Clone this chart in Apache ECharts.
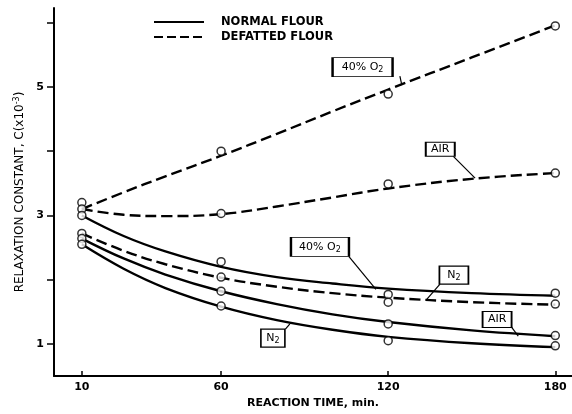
<!DOCTYPE html>
<html>
<head>
<meta charset="utf-8">
<script src="https://cdn.jsdelivr.net/npm/echarts@6/dist/echarts.min.js"></script>
<style>
  html, body { margin: 0; padding: 0; background: #fff; }
  #chart { width: 572px; height: 414px; }
</style>
</head>
<body>
<div id="chart"></div>
<script>
// Reaction times (min) where measurements were taken
const timePts = [10, 60, 120, 180];
// Reaction times used to trace the fitted curves
const timeFit = [10, 25, 40, 60, 80, 100, 120, 150, 180];

// Measured relaxation constants, C (x10^-3)
const defatO2Pts  = [3.20, 4.00, 4.89, 5.95];
const defatAirPts = [3.10, 3.03, 3.49, 3.66];
const defatN2Pts  = [2.72, 2.04, 1.65, 1.62];
const normO2Pts   = [3.00, 2.28, 1.77, 1.79];
const normAirPts  = [2.64, 1.82, 1.31, 1.13];
const normN2Pts   = [2.55, 1.59, 1.05, 0.97];

// Fitted curves through the measurements
const defatO2Fit  = [3.10, 3.36, 3.61, 3.93, 4.27, 4.62, 4.96, 5.46, 5.96];
const defatAirFit = [3.10, 3.01, 2.99, 3.02, 3.14, 3.28, 3.42, 3.57, 3.66];
const defatN2Fit  = [2.72, 2.45, 2.24, 2.03, 1.89, 1.79, 1.72, 1.65, 1.61];
const normO2Fit   = [3.00, 2.68, 2.44, 2.20, 2.04, 1.94, 1.86, 1.79, 1.75];
const normAirFit  = [2.64, 2.33, 2.08, 1.82, 1.62, 1.46, 1.34, 1.21, 1.12];
const normN2Fit   = [2.55, 2.17, 1.87, 1.58, 1.37, 1.22, 1.11, 1.01, 0.95];

// Axis ticks and labels
const xTicks = [10, 60, 120, 180];
const yTicks = [1, 2, 3, 4, 5, 6];
const yLabels = [1, 3, 5];

// Curve tags: text, box centre (data units), leader line (data units)
const tagText = ['40% O{s|2}', 'AIR', '40% O{s|2}', 'N{s|2}', 'AIR', 'N{s|2}'];
const tagAt = [[110.8, 5.31], [138.7, 4.03], [95.5, 2.51], [143.6, 2.07], [159.1, 1.38], [78.6, 1.09]];
const tagLeader = [
  [[124.2, 5.17], [124.9, 5.03]],
  [[143.4, 3.92], [151.2, 3.58]],
  [[105.7, 2.37], [115.6, 1.85]],
  [[138.6, 1.93], [133.6, 1.68]],
  [[164.3, 1.26], [166.7, 1.12]],
  [[83.1, 1.23], [84.7, 1.31]]
];
const tagBox = [[60, 19], [29, 14], [58, 19], [29, 18], [29, 16], [24, 18]];

const FONT = 'DejaVu Sans';
const DASH = [11, 5];
const rich = { s: { fontSize: 8, fontFamily: FONT, padding: [6, 0, 0, 0] } };

function curve(vals, dashed, tag) {
  return {
    type: 'line',
    data: timeFit.map((t, i) => [t, vals[i]]),
    smooth: 0.4,
    symbol: 'none',
    silent: true,
    z: 2,
    lineStyle: { color: '#000', width: 2.4, type: dashed ? DASH : 'solid' },
    markPoint: {
      symbol: 'rect',
      silent: true,
      itemStyle: { color: '#fff', borderColor: '#000', borderWidth: 1.4 },
      label: {
        show: true, position: 'inside', color: '#000',
        fontFamily: FONT, fontSize: 11, rich: rich,
        formatter: tagText[tag]
      },
      data: [{ coord: tagAt[tag], symbolSize: tagBox[tag] }]
    },
    markLine: {
      silent: true,
      symbol: ['none', 'none'],
      label: { show: false },
      lineStyle: { color: '#000', width: 1.2, type: 'solid' },
      data: [[{ coord: tagLeader[tag][0] }, { coord: tagLeader[tag][1] }]]
    }
  };
}

function points(vals) {
  return {
    type: 'scatter',
    data: timePts.map((t, i) => [t, vals[i]]),
    symbol: 'circle',
    symbolSize: 8,
    silent: true,
    z: 3,
    itemStyle: { color: '#fff', borderColor: '#000', borderWidth: 1.5 }
  };
}

function legendLine(name, dashed) {
  return {
    name: name,
    type: 'line',
    data: [],
    symbol: 'none',
    color: '#000',
    lineStyle: { color: '#000', width: 2.4, type: dashed ? [9, 4] : 'solid' }
  };
}

const chart = echarts.init(document.getElementById('chart'));
chart.setOption({
  animation: false,
  backgroundColor: '#fff',
  grid: { left: 54, right: 0, top: 8, bottom: 31 },
  legend: {
    orient: 'vertical',
    left: 153,
    top: 16,
    itemWidth: 50,
    itemHeight: 12,
    itemGap: 3,
    padding: 0,
    selectedMode: false,
    itemStyle: { opacity: 0 },
    data: ['NORMAL FLOUR', 'DEFATTED FLOUR'],
    textStyle: { color: '#000', fontFamily: FONT, fontSize: 11.5, fontWeight: 'bold', padding: [0, 0, 0, 12] }
  },
  xAxis: {
    type: 'value',
    min: 0,
    max: 186,
    name: 'REACTION TIME, min.',
    nameLocation: 'middle',
    nameGap: 22,
    nameTextStyle: { color: '#000', fontFamily: FONT, fontSize: 11, fontWeight: 'bold' },
    axisLine: { show: true, lineStyle: { color: '#000', width: 2 } },
    axisTick: { show: true, inside: true, length: 5, lineStyle: { color: '#000', width: 1.5 }, customValues: xTicks },
    axisLabel: { color: '#000', fontFamily: FONT, fontSize: 11, fontWeight: 'bold', margin: 6, customValues: xTicks },
    splitLine: { show: false }
  },
  yAxis: {
    type: 'value',
    min: 0.5,
    max: 6.23,
    name: 'RELAXATION CONSTANT, C(x10{sup|-3})',
    nameLocation: 'middle',
    nameRotate: 90,
    nameGap: 27,
    nameTextStyle: {
      color: '#000', fontFamily: FONT, fontSize: 12,
      rich: { sup: { fontSize: 8, fontFamily: FONT, padding: [0, 0, 6, 0] } }
    },
    axisLine: { show: true, lineStyle: { color: '#000', width: 2 } },
    axisTick: { show: true, inside: false, length: 7, lineStyle: { color: '#000', width: 1.5 }, customValues: yTicks },
    axisLabel: { color: '#000', fontFamily: FONT, fontSize: 11, fontWeight: 'bold', margin: 10, customValues: yLabels },
    splitLine: { show: false }
  },
  series: [
    legendLine('NORMAL FLOUR', false),
    legendLine('DEFATTED FLOUR', true),
    curve(defatO2Fit, true, 0),
    curve(defatAirFit, true, 1),
    curve(normO2Fit, false, 2),
    curve(defatN2Fit, true, 3),
    curve(normAirFit, false, 4),
    curve(normN2Fit, false, 5),
    points(defatO2Pts),
    points(defatAirPts),
    points(normO2Pts),
    points(defatN2Pts),
    points(normAirPts),
    points(normN2Pts)
  ]
});
</script>
</body>
</html>
